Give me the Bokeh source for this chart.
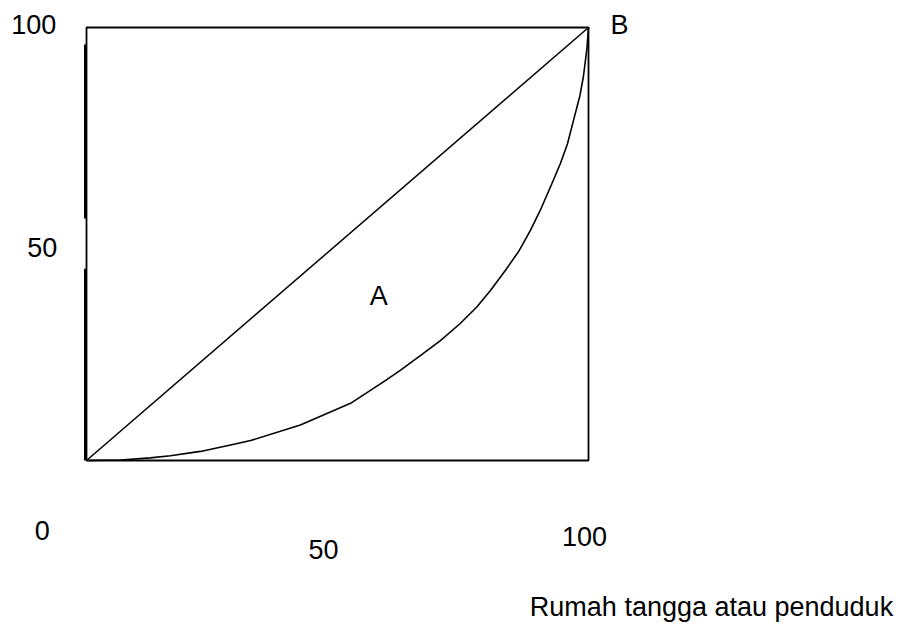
from bokeh.plotting import figure
from bokeh.models import ColumnDataSource, Range1d
from bokeh.core.properties import value
from bokeh.embed import file_html
from bokeh.resources import INLINE

# Lorenz curve (percent of households vs percent of income)
curve_x = [0, 6.8, 12.7, 16.7, 22.7, 28.7, 32.7, 42.6, 52.6, 59.6, 62.5, 66.5, 70.5, 74.5,
           77.8, 80.5, 83.5, 86.1, 88.4, 90.4, 92.4, 94.4, 95.8, 97.0, 98.3, 99.0, 99.7, 100]
curve_y = [0, 0.1, 0.6, 1.1, 2.1, 3.6, 4.6, 8.2, 13.2, 18.5, 20.8, 24.2, 27.7, 31.7,
           35.5, 39.3, 44.0, 48.3, 53.1, 57.8, 63.1, 68.6, 73.1, 78.5, 84.3, 88.8, 95.3, 100]

# Line of perfect equality
diag_x = [0, 100]
diag_y = [0, 100]

# Box
box_x = [0, 100, 100, 0, 0]
box_y = [0, 0, 100, 100, 0]

# Labels
label_text = ["100", "50", "0", "50", "100", "B", "A", "Rumah tangga atau penduduk"]
label_x = [-10.5, -8.8, -8.8, 47.2, 99.2, 106.2, 58.2, 124.5]
label_y = [100.8, 49.2, -16.2, -20.6, -17.6, 100.5, 37.9, -33.9]

W, H = 914, 629
p = figure(width=W, height=H, output_backend="svg", toolbar_location=None,
           x_range=Range1d(-17.131, 164.94), y_range=Range1d(-39.03, 106.236),
           min_border=0, min_border_left=0, min_border_right=0,
           min_border_top=0, min_border_bottom=0)
p.axis.visible = False
p.grid.visible = False
p.outline_line_color = None
p.background_fill_color = "white"
p.border_fill_color = "white"

p.line(box_x, box_y, line_color="black", line_width=1.8)
# thicker left-edge pieces, broken around the "50" label
p.segment(x0=[-0.25, -0.25], y0=[96.1, 44.3], x1=[-0.25, -0.25], y1=[55.9, 0],
          line_color="black", line_width=2.5)
p.line(diag_x, diag_y, line_color="black", line_width=1.5)
p.line(curve_x, curve_y, line_color="black", line_width=1.6, line_join="round")

src = ColumnDataSource(dict(x=label_x, y=label_y, t=label_text))
p.text(x="x", y="y", text="t", source=src, text_align="center",
       text_baseline="middle", text_font=value("Liberation Sans"),
       text_font_size="27px", text_color="black")

open("out.html", "w").write(file_html(p, INLINE))
